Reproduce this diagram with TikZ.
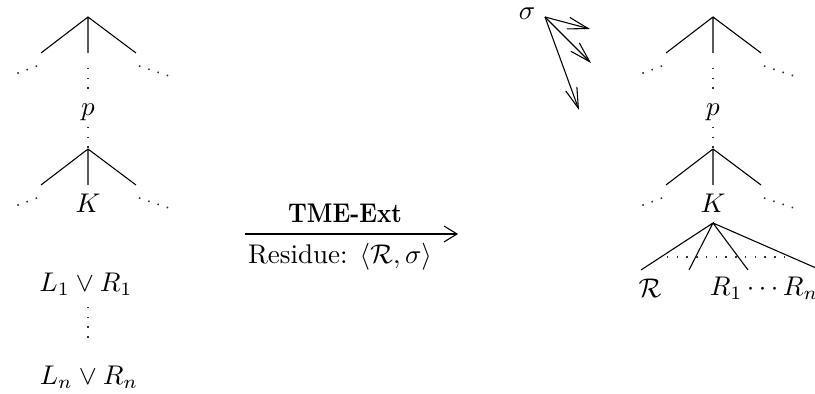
\documentclass[tikz,border=0pt]{standalone}
\usepackage{graphicx}
\usetikzlibrary{arrows.meta}
\begin{document}
\begin{tikzpicture}[x=0.37pt,y=-0.37pt,line width=0.4pt,
  dots/.style={dash pattern=on 0.55pt off 3.05pt,line width=0.6pt,black!80},
  lbl/.style={inner sep=0pt},
  mtip/.style={-{Straight Barb[length=4.8pt,width=5.9pt]}},
  stip/.style={-{Straight Barb[length=7.6pt,width=4.4pt]}}]
\useasboundingbox (0,0) rectangle (815,394);
% two trees
\foreach \cx/\n in {88/L,713/R}{
  \coordinate (\n a) at (\cx,17);
  \coordinate (\n al) at ({\cx-47},53);
  \coordinate (\n am) at (\cx,53);
  \coordinate (\n ar) at ({\cx+48},53);
  \draw (\n al) -- (\n a) -- (\n ar) (\n a) -- (\n am);
  \draw[dots] ({\cx-51},66) -- ({\cx-78},76);
  \draw[dots] ({\cx+51},66) -- ({\cx+81},76);
  \draw[dots] (\cx,68) -- (\cx,92);
  \node[lbl] (\n p) at (\cx,112) {$p$};
  \coordinate (\n b) at (\cx,149);
  \draw[dots] (\cx,127) -- (\n b);
  \coordinate (\n bl) at ({\cx-47},185);
  \coordinate (\n bm) at (\cx,185);
  \coordinate (\n br) at ({\cx+48},185);
  \draw (\n bl) -- (\n b) -- (\n br) (\n b) -- (\n bm);
  \draw[dots] ({\cx-51},198) -- ({\cx-78},208);
  \draw[dots] ({\cx+51},198) -- ({\cx+81},208);
  \node[lbl] (\n K) at (\cx,203) {$K$};
}
% left clause list
\node[lbl] (c1) at (86,284) {$L_1\vee R_1$};
\node[lbl] (cn) at (89,377) {$L_n\vee R_n$};
\draw[dots] (88,307) -- (88,341);
% main arrow
\coordinate (as) at (245,234);
\coordinate (ae) at (458,234);
\draw[mtip] (as) -- (ae);
\node[lbl,anchor=base] (tme) at (345,223) {\scalebox{0.87}[1]{\textbf{TME-Ext}}};
\node[lbl,anchor=base] (res) at (340,264) {Residue: $\langle\mathcal{R},\sigma\rangle$};
% sigma arrows
\node[lbl] (sig) at (527,14) {$\sigma$};
\coordinate (so) at (545,17);
\coordinate (s1) at (590,29);
\coordinate (s2) at (591,63);
\coordinate (s3) at (579,110);
\draw[stip] (so) -- (s1);
\draw[stip] (so) -- (s2);
\draw[stip] (so) -- (s3);
% right bottom extension
\coordinate (k) at (713,223);
\coordinate (e1) at (641,270);
\coordinate (e2) at (689,270);
\coordinate (e3) at (748,270);
\coordinate (e4) at (816,268);
\draw (e1) -- (k) -- (e2) (k) -- (e3) (k) -- (e4);
\draw[dots] (667,257) -- (785,257);
\node[lbl] (rr) at (650,288) {$\mathcal{R}$};
\node[lbl] (rs) at (764,288) {$R_1\cdots R_n$};
\end{tikzpicture}
\end{document}
